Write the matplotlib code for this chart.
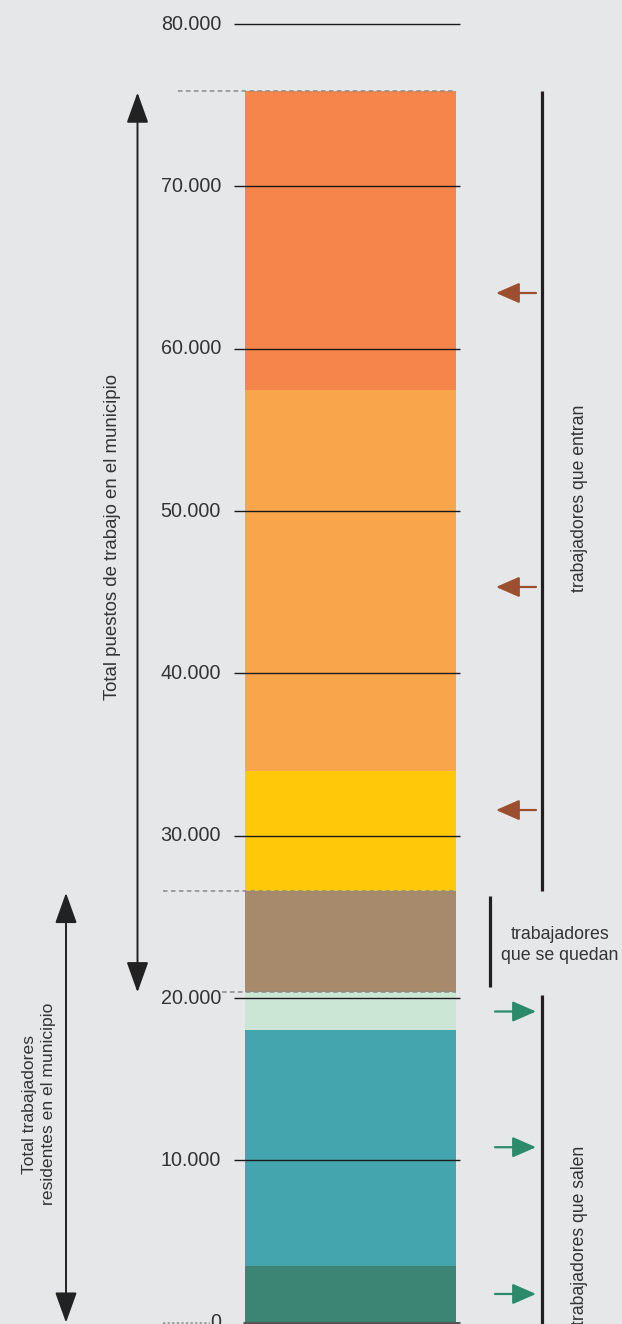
import matplotlib
matplotlib.use("Agg")
import matplotlib.pyplot as plt

# ---- data ----
segment_names = ["residentes que salen 1", "residentes que salen 2", "residentes que salen 3",
                 "trabajadores que se quedan", "entran 1", "entran 2", "entran 3"]
segment_tops = [3500, 18000, 20350, 26600, 34000, 57450, 75900]
segment_colors = ["#3C8473", "#44A5AE", "#CCE6D6", "#A68A6B", "#FFC90A", "#F9A54B", "#F5854A"]
tick_values = [0, 10000, 20000, 30000, 40000, 50000, 60000, 70000, 80000]
tick_labels = ["0", "10.000", "20.000", "30.000", "40.000", "50.000", "60.000", "70.000", "80.000"]
in_arrow_values = [63430, 45320, 31580]
out_arrow_values = [19170, 10810, 1770]

total_jobs = 75900
stay_top = 26600
stay_bottom = 20350

BG = "#E6E7E9"
TXT = "#333333"
plt.rcParams['font.family'] = ['Liberation Sans', 'DejaVu Sans']

W, H = 622, 1324
fig = plt.figure(figsize=(W / 100, H / 100), dpi=100, facecolor=BG)
ax = fig.add_axes([0, 0, 1, 1])
ax.set_facecolor(BG)
upp = 80000 / 1298.7
ax.set_xlim(0, W)
ax.set_ylim(-1.3 * upp, 80000 + 24 * upp)
ax.axis("off")

# stacked bar
bottoms = [0] + segment_tops[:-1]
for b, t, c in zip(bottoms, segment_tops, segment_colors):
    ax.bar(350.4, t - b, bottom=b, width=210.7, color=c, zorder=1, linewidth=0)

# gridlines + tick labels
for v, lab in zip(tick_values, tick_labels):
    if v == 0:
        ax.hlines(v, 243, 460, color="#555555", lw=2.2, zorder=3)
    else:
        ax.hlines(v, 234, 460, color="#1A1A1A", lw=1.0, zorder=3)
    ax.text(221, v, lab, ha="right", va="center", fontsize=14.2, color=TXT, zorder=4)

# dashed guide lines
ax.hlines(total_jobs, 178, 456, color="#8A8A8A", lw=1.1, linestyles=(0, (3, 2.2)), zorder=4)
ax.hlines(stay_top, 163, 456, color="#8A8A8A", lw=1.1, linestyles=(0, (3, 2.2)), zorder=4)
ax.hlines(stay_bottom, 222, 456, color="#8A8A8A", lw=1.1, linestyles=(0, (3, 2.2)), zorder=4)
ax.hlines(0, 163, 210, color="#8A8A8A", lw=1.1, linestyles=(0, (1.5, 1.5)), zorder=4)

# left double arrows
arrow_kw = dict(arrowstyle="<|-|>,head_length=0.95,head_width=0.34", color="#222222", lw=1.4,
                shrinkA=0, shrinkB=0, mutation_scale=20)
ax.annotate("", xy=(137.5, total_jobs - 120), xytext=(137.5, stay_bottom), arrowprops=arrow_kw)
ax.annotate("", xy=(66, stay_top - 120), xytext=(66, 0), arrowprops=arrow_kw)

ax.text(113, 48390, "Total puestos de trabajo en el municipio", rotation=90,
        ha="center", va="center", fontsize=13.4, color=TXT)
ax.text(39, 13470, "Total trabajadores\nresidentes en el municipio", rotation=90,
        ha="center", va="center", fontsize=12.6, color=TXT, linespacing=1.3)

# right brackets
ax.vlines(541.5, stay_top, total_jobs, color="#231F20", lw=2.3)
ax.vlines(489.5, stay_bottom + 300, stay_top - 300, color="#231F20", lw=2.3)
ax.vlines(541.5, -200, 20180, color="#231F20", lw=2.3)

ax.text(580, 50800, "trabajadores que entran", rotation=90, ha="center", va="center",
        fontsize=12.7, color=TXT)
ax.text(580, 5400, "trabajadores que salen", rotation=90, ha="center", va="center",
        fontsize=12.7, color=TXT, clip_on=False)
ax.text(560, 23260, "trabajadores\nque se quedan", ha="center", va="center",
        fontsize=12.8, color=TXT, linespacing=1.25)

# small flow arrows
small_kw_in = dict(arrowstyle="-|>,head_length=0.8,head_width=0.35", color="#9C4F2E", lw=1.6,
                   shrinkA=0, shrinkB=0, mutation_scale=18)
small_kw_out = dict(arrowstyle="-|>,head_length=0.8,head_width=0.35", color="#2A8A6A", lw=1.6,
                    shrinkA=0, shrinkB=0, mutation_scale=18)
for v in in_arrow_values:
    ax.annotate("", xy=(496, v), xytext=(536, v), arrowprops=small_kw_in)
for v in out_arrow_values:
    ax.annotate("", xy=(536, v), xytext=(495, v), arrowprops=small_kw_out)

fig.savefig("out.png", dpi=100, facecolor=BG)
